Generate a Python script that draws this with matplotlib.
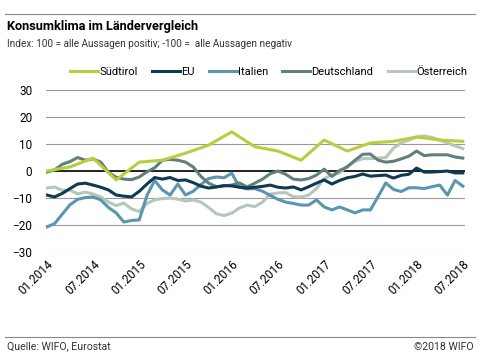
import matplotlib
matplotlib.use("Agg")
import matplotlib.pyplot as plt
from matplotlib.lines import Line2D

plt.rcParams['font.family'] = ['Roboto', 'DejaVu Sans']
plt.rcParams['font.stretch'] = 'condensed'

# monatliche Werte 01.2014 - 07.2018
months = list(range(55))
tick_pos = [0, 6, 12, 18, 24, 30, 36, 42, 48, 54]
tick_labels = ["01.2014", "07.2014", "01.2015", "07.2015", "01.2016",
               "07.2016", "01.2017", "07.2017", "01.2018", "07.2018"]

# Südtirol nur quartalsweise
sued_months = [0, 3, 6, 9, 12, 15, 18, 21, 24, 27, 30, 33, 36, 39, 42, 45, 48, 51, 54]
suedtirol = [0, 1.5, 4.8, -3.3, 3.3, 4, 6.6, 9.6, 14.5, 9, 7.4, 4, 11.5, 7.4, 10.4, 11, 12.6, 11.5, 11]

eu = [-8.9, -9.6, -8.3, -6.5, -4.8, -4.5, -5.2, -6, -7, -8.9,
      -9.3, -9.6, -7.5, -4.8, -2.4, -3, -2.4, -3.5, -3.3, -4.3,
      -5.6, -6.3, -5.9, -5.4, -5.5, -6, -6.3, -6, -5.7, -5.2,
      -6, -6.3, -5.9, -7, -5.8, -4.5, -3.3, -4.8, -3.5, -2.5,
      -2, -1.1, -1.9, -1.7, -1.5, -2.6, -1.6, -1.2, 1.1, -0.4,
      -0.4, -0.2, 0, -0.7, -0.7]

italien = [-20.7, -19.5, -16, -12.5, -10.5, -9.8, -9.6, -10.7, -13.5, -15.5,
           -18.9, -18.3, -18.1, -9, -3.5, -7, -8.9, -4.8, -8.9, -7.5,
           -5, -2.8, -2.2, -2.5, -0.8, -5.9, -6.6, -6.5, -7.5, -9,
           -10.5, -11.5, -12, -12.6, -12.6, -10.7, -13.3, -14.4, -13.3, -14.4,
           -15.5, -14.4, -14.4, -9.5, -4.4, -6.8, -7.6, -6.2, -6.2, -6.5,
           -5.8, -5.2, -8.9, -3.5, -5.6]

deutschland = [-0.4, 0.4, 2.5, 3.5, 5, 4, 4.5, 3.3, -0.5, -2.3,
               -3, -3.2, -2.2, -0.3, 1.2, 4, 4.3, 4, 3.3, 1.5,
               -2, -4.5, -5.8, -5.5, -5.2, -4.4, -5.9, -4.5, -3, -1,
               0, -1.2, -3, -3.3, -2.8, -1.5, 0.7, -2, 0.2, 1.5,
               4, 6.2, 6.3, 4, 3.3, 3.6, 4.5, 5.5, 7.4, 5.7,
               6, 6, 6, 5.2, 4.8]

oesterreich = [-6.3, -5.9, -7.2, -7, -8.5, -7.8, -8.5, -9.6, -11.5, -12.8,
               -11.9, -14, -15, -12, -10.7, -10.2, -10, -10.4, -11.1, -10.7,
               -11.5, -13.5, -15.8, -16.5, -15.6, -13.7, -12.6, -13.2, -11.5, -8.5,
               -8.1, -8, -9.5, -9.6, -8.9, -6.5, -2.8, -1.5, -0.7, 1.8,
               3.5, 4.6, 4.6, 4.8, 5, 8.5, 10.4, 11.5, 12.6, 13,
               12.4, 11.5, 10.4, 9.3, 8.3]

c_sued = "#b7cf3c"
c_eu = "#0f3a52"
c_it = "#5a96ae"
c_de = "#62807a"
c_at = "#b4c8b9"

fig = plt.figure(figsize=(4.8, 3.53), dpi=100)
ax = fig.add_axes([0.096, 0.286, 0.873, 0.459])

lw = 2.2
ax.plot(months, oesterreich, color=c_at, lw=lw)
ax.plot(months, italien, color=c_it, lw=lw)
ax.plot(months, deutschland, color=c_de, lw=lw)
ax.plot(sued_months, suedtirol, color=c_sued, lw=lw)
ax.plot(months, eu, color=c_eu, lw=lw)

ax.set_ylim(-30, 30)
ax.set_xlim(-0.1, 54.3)
ax.set_yticks([-30, -20, -10, 0, 10, 20, 30])
ax.yaxis.grid(True, color="#9a9a9a", lw=0.8)
ax.axhline(0, color="#222222", lw=1.4, zorder=1)
ax.set_axisbelow(True)
for s in ax.spines.values():
    s.set_visible(False)
ax.tick_params(axis="y", length=0, labelsize=8.5, pad=10)
ax.set_xticks(tick_pos)
ax.set_xticklabels(tick_labels, rotation=45, ha="right", rotation_mode="anchor", fontsize=8.5)
ax.tick_params(axis="x", length=0, pad=4)

# Kopf und Fuss
fig.add_artist(Line2D([0.01, 0.99], [0.96, 0.96], color="#888888", lw=0.8))
fig.text(0.014, 0.925, "Konsumklima im Ländervergleich", fontsize=9.2, weight="bold", va="center")
fig.text(0.014, 0.876, "Index: 100 = alle Aussagen positiv; -100 =  alle Aussagen negativ",
         fontsize=7.2, color="#333333", va="center")
fig.add_artist(Line2D([0.01, 0.99], [0.045, 0.045], color="#888888", lw=0.8))
fig.text(0.014, 0.018, "Quelle: WIFO, Eurostat", fontsize=7.6, color="#333333", va="center")
fig.text(0.986, 0.018, "©2018 WIFO", fontsize=7.6, color="#333333", va="center", ha="right")

handles = [Line2D([], [], color=c, lw=lw) for c in [c_sued, c_eu, c_it, c_de, c_at]]
fig.legend(handles, ["Südtirol", "EU", "Italien", "Deutschland", "Österreich"],
           loc="center", bbox_to_anchor=(0.56, 0.797), ncol=5, frameon=False,
           fontsize=8, handlelength=2.5, handletextpad=0.1, columnspacing=1.3)

fig.savefig("out.png", dpi=100)
